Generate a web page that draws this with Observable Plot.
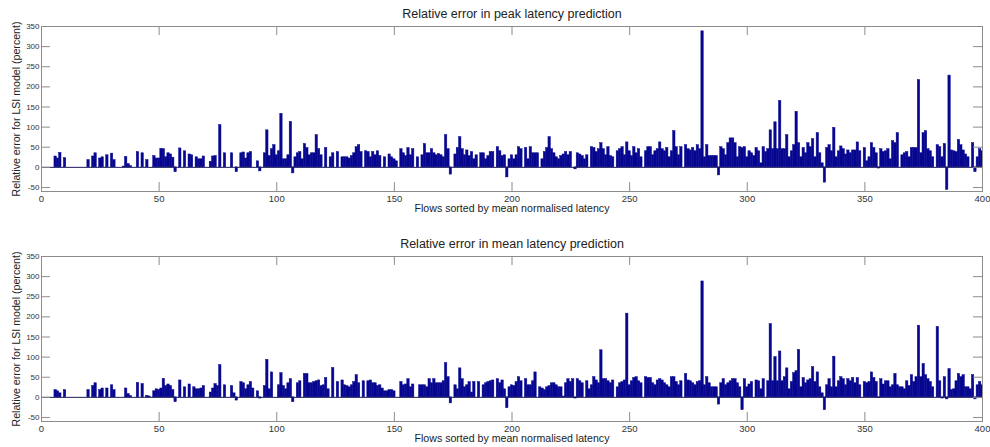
<!DOCTYPE html>
<html>
<head>
<meta charset="utf-8">
<script src="https://cdn.jsdelivr.net/npm/d3@7"></script>
<script src="https://cdn.jsdelivr.net/npm/@observablehq/plot@0.6"></script>
<style>
  html, body { margin: 0; padding: 0; background: #fff; }
  #chart svg { display: block; }
</style>
</head>
<body>
<div id="chart"></div>
<script>
// Relative error in peak latency prediction (percent), flows 1..400
const peakErr = [
  0,0,0,0,0,27,22,36,0,23,
  0,0,0,0,0,0,0,0,0,18,
  0,27,35,0,22,25,0,30,0,34,
  18,0,0,0,2,26,8,3,0,0,
  38,0,35,0,18,0,0,28,22,22,
  46,45,25,35,32,24,-12,0,47,0,
  40,0,32,30,0,25,20,20,27,0,
  0,14,27,28,0,105,0,35,0,0,
  35,0,-12,0,35,37,22,35,38,0,
  0,15,-10,0,35,92,28,45,55,30,
  40,133,20,20,30,113,-15,25,35,38,
  20,58,48,30,35,35,80,45,30,0,
  48,0,25,35,0,38,0,25,25,25,
  22,28,35,50,55,38,0,40,38,25,
  38,30,40,28,0,25,0,32,25,20,
  15,0,45,35,28,48,30,45,0,25,
  0,30,58,35,35,45,35,30,33,30,
  25,80,45,-18,0,32,48,75,45,30,
  42,28,38,20,30,0,35,35,20,28,
  38,38,0,50,40,28,30,-25,20,30,
  20,30,50,45,0,48,20,50,35,35,
  35,0,20,38,48,75,45,35,25,20,
  28,32,38,30,38,0,-5,35,32,28,
  20,30,0,50,48,38,45,60,45,30,
  50,28,25,0,40,45,50,30,62,40,
  28,50,35,45,25,0,40,50,50,30,
  40,45,62,45,40,48,25,40,90,50,
  30,50,0,55,45,42,48,40,55,45,
  338,25,55,28,28,28,28,-20,50,45,
  30,60,72,72,60,25,50,48,50,25,
  40,35,28,48,40,10,50,38,45,92,
  45,112,45,165,45,45,80,25,40,55,
  138,60,25,48,35,60,50,70,25,85,
  35,10,-38,48,55,40,98,25,40,52,
  45,32,42,35,42,42,62,40,0,48,
  15,25,60,48,35,-3,45,38,40,45,
  20,65,60,85,0,30,35,38,25,48,
  48,48,217,35,85,90,45,40,25,0,
  55,50,25,58,-56,228,42,40,38,68,
  55,42,32,25,0,60,-12,25,45,40
];

// Relative error in mean latency prediction (percent), flows 1..400
const meanErr = [
  0,0,0,0,0,18,15,10,0,18,
  0,0,0,0,0,0,0,0,0,18,
  0,28,35,0,18,22,0,22,0,30,
  18,0,0,0,0,22,8,3,0,0,
  36,0,33,0,4,2,0,15,20,18,
  22,46,28,32,28,18,-12,0,42,0,
  25,0,32,0,25,20,20,22,28,0,
  0,12,22,33,28,80,0,30,0,0,
  28,10,-8,0,38,35,20,30,38,22,
  0,15,-3,0,28,93,20,62,0,0,
  30,60,28,20,35,45,-12,0,35,40,
  0,58,58,35,35,38,40,42,28,30,
  48,20,0,73,0,38,0,42,30,28,
  25,30,38,55,35,0,40,0,40,42,
  35,35,28,30,22,15,15,18,18,15,
  0,0,38,30,32,45,25,32,0,0,
  30,30,30,25,45,35,45,35,35,35,
  40,85,50,-15,0,30,20,72,45,25,
  30,38,12,38,0,38,0,30,35,38,
  40,42,0,45,35,42,20,-27,25,30,
  28,38,50,40,0,45,30,30,40,62,
  0,25,22,18,25,28,35,35,30,25,
  25,2,35,45,38,45,-3,45,40,35,
  0,40,20,30,50,42,35,117,45,45,
  40,35,42,0,25,35,38,42,208,30,
  40,48,50,40,35,0,50,48,48,35,
  30,42,45,42,35,30,25,50,50,38,
  30,40,0,58,42,40,35,30,38,40,
  288,30,50,35,25,25,25,-18,35,45,
  30,35,40,45,45,35,25,-32,45,25,
  32,38,0,42,40,20,45,0,40,182,
  40,100,40,114,40,50,72,20,38,60,
  65,118,25,48,35,42,45,75,38,62,
  25,10,-32,30,45,25,101,25,40,50,
  45,30,45,40,48,35,48,30,0,38,
  35,38,62,48,38,-2,45,32,40,40,
  25,30,58,30,25,25,20,40,28,55,
  38,50,178,50,83,55,45,38,25,0,
  175,40,-3,50,-5,70,18,20,40,58,
  50,55,25,25,20,55,-5,30,38,30
];

const xTicks = [0, 50, 100, 150, 200, 250, 300, 350, 400];
const yTicks = [-50, 0, 50, 100, 150, 200, 250, 300, 350];
const titles = ["Relative error in peak latency prediction", "Relative error in mean latency prediction"];
const xLabel = "Flows sorted by mean normalised latency";
const yLabel = "Relative error for LSI model (percent)";

const FONT = "'Liberation Sans', Arial, Helvetica, sans-serif";
const BAR = "#06068f";
const FRAME = "#8c8c8c";
const W = 990;
const ML = 41, MR = 8;
const PW = W - ML - MR;
const PH = 165;
const TICK = 9;

function panel(values, title, height, marginTop, marginBottom) {
  const rows = values.map((v, i) => ({flow: i + 1, value: v}));
  return Plot.plot({
    width: W,
    height,
    marginTop,
    marginBottom,
    marginLeft: ML,
    marginRight: MR,
    style: {fontFamily: FONT, background: "#fff"},
    x: {domain: [0, 400], axis: null},
    y: {domain: [-60, 350], axis: null},
    marks: [
      Plot.rectY(rows.filter(d => d.value !== 0), {
        x1: d => d.flow - 0.5,
        x2: d => d.flow + 0.5,
        y1: 0,
        y2: "value",
        fill: BAR,
        stroke: BAR,
        strokeWidth: 0.5,
        clip: true
      }),
      Plot.ruleY([0], {stroke: "#1c1c5c", strokeWidth: 1}),
      Plot.frame({stroke: FRAME, strokeWidth: 1}),
      Plot.tickX(xTicks, {x: d => d, insetTop: PH - TICK, stroke: FRAME}),
      Plot.tickX(xTicks, {x: d => d, insetBottom: PH - TICK, stroke: FRAME}),
      Plot.tickY(yTicks, {y: d => d, insetRight: PW - TICK, stroke: FRAME}),
      Plot.tickY(yTicks, {y: d => d, insetLeft: PW - TICK, stroke: FRAME}),
      Plot.text(xTicks, {x: d => d, text: d => String(d), frameAnchor: "bottom", dy: 7, lineAnchor: "middle", fontSize: 9.5, fill: "#333"}),
      Plot.text(yTicks, {y: d => d, text: d => String(d), frameAnchor: "left", textAnchor: "end", dx: -2, fontSize: 8, fill: "#333"}),
      Plot.text([title], {text: d => d, frameAnchor: "top", dy: -13, lineAnchor: "middle", fontSize: 12.5, fill: "#222"}),
      Plot.text([xLabel], {text: d => d, frameAnchor: "bottom", dy: 17.5, lineAnchor: "middle", fontSize: 10.6, fill: "#222"}),
      Plot.text([yLabel], {text: d => d, frameAnchor: "left", dx: -25, rotate: -90, textAnchor: "middle", lineAnchor: "middle", fontSize: 10.6, fill: "#222"})
    ]
  });
}

const chart = document.getElementById("chart");
chart.appendChild(panel(peakErr, titles[0], 224, 26, 33));
chart.appendChild(panel(meanErr, titles[1], 223, 32, 26));
</script>
</body>
</html>
